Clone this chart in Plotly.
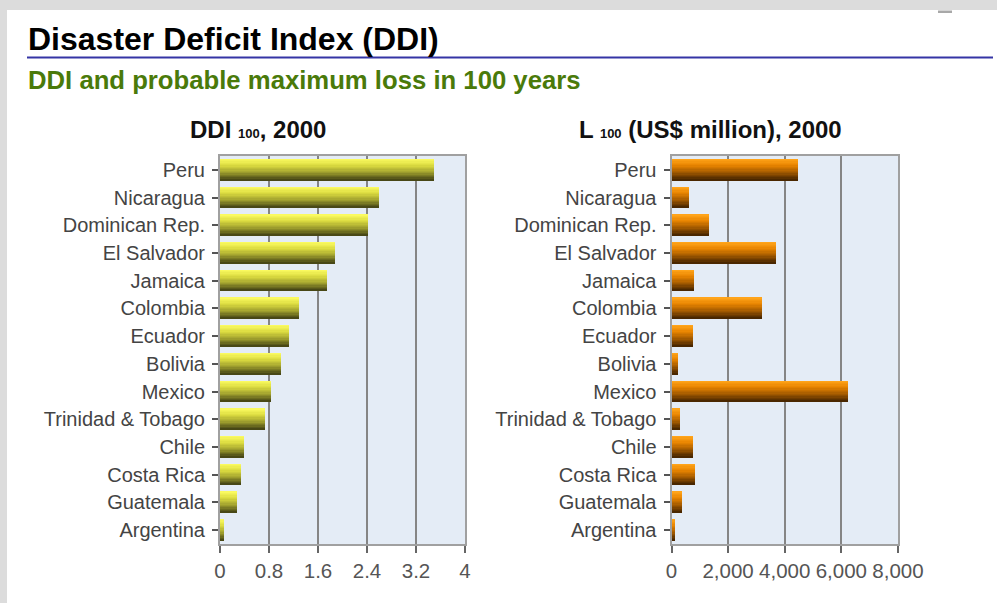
import plotly.graph_objects as go

# ---------------- data ----------------
countries = ["Peru", "Nicaragua", "Dominican Rep.", "El Salvador", "Jamaica",
             "Colombia", "Ecuador", "Bolivia", "Mexico", "Trinidad & Tobago",
             "Chile", "Costa Rica", "Guatemala", "Argentina"]
ddi_100 = [3.50, 2.60, 2.42, 1.87, 1.75, 1.29, 1.12, 1.00, 0.83, 0.74,
           0.39, 0.34, 0.28, 0.07]
loss_100 = [4450, 600, 1300, 3690, 790, 3190, 730, 220, 6210, 300,
            730, 800, 350, 90]
ddi_ticks = [0, 0.8, 1.6, 2.4, 3.2, 4]
loss_ticks = [0, 2000, 4000, 6000, 8000]

title_text = "Disaster Deficit Index (DDI)"
subtitle_text = "DDI and probable maximum loss in 100 years"
left_title = 'DDI <span style="font-size:13px">100</span>, 2000'
right_title = 'L <span style="font-size:13px">100</span> (US$ million), 2000'

W_PX, H_PX = 997, 603


def px(x):
    return x / W_PX


def py(y):
    return 1 - y / H_PX


def hex2rgb(h):
    h = h.lstrip('#')
    return [int(h[i:i + 2], 16) for i in (0, 2, 4)]


def grad(stops, t):
    for (t0, c0), (t1, c1) in zip(stops[:-1], stops[1:]):
        if t0 <= t <= t1:
            f = (t - t0) / (t1 - t0) if t1 > t0 else 0
            a, b = hex2rgb(c0), hex2rgb(c1)
            r = [round(a[i] + (b[i] - a[i]) * f) for i in range(3)]
            return f"rgb({r[0]},{r[1]},{r[2]})"
    return stops[-1][1]


yellow_stops = [(0, '#fafa60'), (0.3, '#dcdc40'), (0.65, '#a0a02e'), (1, '#484816')]
orange_stops = [(0, '#ffa41a'), (0.3, '#e88400'), (0.65, '#a35a00'), (1, '#4a2700')]

fig = go.Figure()

BAR_W = 0.76
N = 16
for vals, stops, xa, ya in [(ddi_100, yellow_stops, 'x', 'y'),
                            (loss_100, orange_stops, 'x2', 'y2')]:
    for k in range(N):
        t = k / (N - 1)
        fig.add_trace(go.Bar(
            x=vals, y=countries, orientation='h',
            offset=-BAR_W / 2 + k * BAR_W / N,
            width=BAR_W / N + (0.012 if k < N - 1 else 0),
            marker=dict(color=grad(stops, t), line=dict(width=0)),
            xaxis=xa, yaxis=ya, hoverinfo='skip', showlegend=False))

FONT = "Liberation Sans, Arial, sans-serif"
ydom = [py(544), py(156)]

common_x = dict(showgrid=True, gridcolor='#858585', gridwidth=1.6,
                showline=True, linecolor='#a0a0a0', linewidth=2, mirror=True,
                ticks='outside', ticklen=7, tickwidth=1.5, tickcolor='#666666',
                tickfont=dict(family=FONT, size=20.5, color='#555555'),
                zeroline=False, fixedrange=True, automargin=False)
common_y = dict(type='category', categoryorder='array', categoryarray=countries,
                range=[13.5, -0.5], autorange=False, showgrid=False,
                showline=True, linecolor='#a0a0a0', linewidth=2, mirror=True,
                ticks='outside', ticklen=6, tickwidth=1.5, tickcolor='#555555',
                ticklabelstandoff=3,
                tickfont=dict(family=FONT, size=20, color='#444444'),
                fixedrange=True, automargin=False)

fig.update_layout(
    width=W_PX, height=H_PX, autosize=False,
    margin=dict(l=0, r=0, t=0, b=0, pad=0, autoexpand=False),
    showlegend=False,
    paper_bgcolor='white', plot_bgcolor='#e4ecf6',
    barmode='overlay', bargap=0,
    xaxis=dict(domain=[px(220), px(465)], range=[0, 4], tickvals=ddi_ticks,
               ticktext=[f"{v:g}" for v in ddi_ticks], anchor='y', **common_x),
    yaxis=dict(domain=ydom, anchor='x', **common_y),
    xaxis2=dict(domain=[px(671.5), px(898)], range=[0, 8000], tickvals=loss_ticks,
                tickformat=',d', anchor='y2', **common_x),
    yaxis2=dict(domain=ydom, anchor='x2', **common_y),
    shapes=[
        dict(type='rect', xref='paper', yref='paper', x0=0, x1=1, y0=py(10), y1=1,
             fillcolor='#dcdcdc', line=dict(width=0), layer='below'),
        dict(type='rect', xref='paper', yref='paper', x0=0, x1=px(7), y0=0, y1=1,
             fillcolor='#dcdcdc', line=dict(width=0), layer='below'),
        dict(type='rect', xref='paper', yref='paper', x0=px(938), x1=px(952),
             y0=py(13), y1=py(10.5), fillcolor='#a8a8a8', line=dict(width=0)),
        dict(type='line', xref='paper', yref='paper', x0=px(27), x1=px(993),
             y0=py(57.5), y1=py(57.5), line=dict(color='#3535a5', width=2)),
    ],
    annotations=[
        dict(text=f"<b>{title_text}</b>", xref='paper', yref='paper',
             x=px(26), y=py(39), xanchor='left', yanchor='middle', showarrow=False,
             font=dict(family=FONT, size=32, color='#000000')),
        dict(text=f"<b>{subtitle_text}</b>", xref='paper', yref='paper',
             x=px(26), y=py(80), xanchor='left', yanchor='middle', showarrow=False,
             font=dict(family=FONT, size=25.7, color='#4a7a0a')),
        dict(text=f"<b>{left_title}</b>", xref='paper', yref='paper',
             x=px(258), y=py(129), xanchor='center', yanchor='middle', showarrow=False,
             font=dict(family=FONT, size=24, color='#111111')),
        dict(text=f"<b>{right_title}</b>", xref='paper', yref='paper',
             x=px(710.5), y=py(129), xanchor='center', yanchor='middle', showarrow=False,
             font=dict(family=FONT, size=24, color='#111111')),
    ],
)

fig.write_html("out.html",
               config=dict(displayModeBar=False, responsive=False),
               post_script="document.body.style.margin='0';"
                           "document.body.style.overflow='hidden';")
